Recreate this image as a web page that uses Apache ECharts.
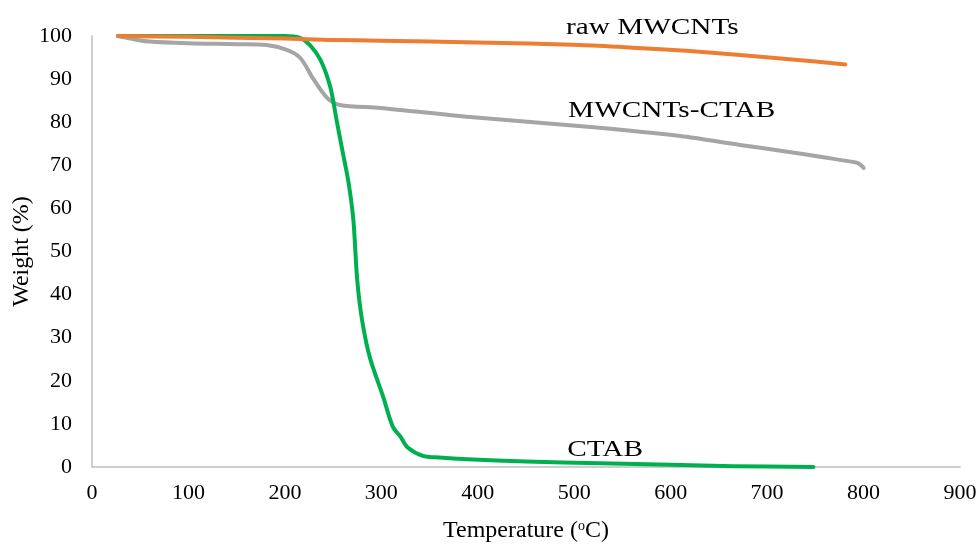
<!DOCTYPE html>
<html>
<head>
<meta charset="utf-8">
<title>TGA</title>
<script src="https://cdn.jsdelivr.net/npm/echarts@6/dist/echarts.min.js"></script>
<style>
  html, body { margin: 0; padding: 0; background: #fff; }
  #main { width: 977px; height: 547px; }
</style>
</head>
<body>
<div id="main"></div>
<script>
// temperature (°C), weight (%)
var rawMwcnts = [
  [27, 100], [100, 99.8], [200, 99.4], [247, 99.1], [300, 98.9], [400, 98.5],
  [506, 97.9], [560, 97.3], [620, 96.5], [672, 95.6], [714, 94.8], [750, 94.1], [781, 93.4]
];
var mwcntsCtab = [
  [27, 100], [40, 99.4], [60, 98.7], [100, 98.3], [150, 98.1], [181, 97.9],
  [202, 96.8], [216, 94.9], [229, 90.2], [244, 85.6], [257, 84.0], [299, 83.3],
  [392, 81.2], [517, 78.9], [610, 76.8], [672, 74.7], [714, 73.4], [760, 71.8],
  [793, 70.6], [797, 70.1], [800, 69.4]
];
var ctab = [
  [27, 100], [100, 100], [200, 100], [215, 99.6], [226, 97.9], [237, 94.4],
  [247, 88.2], [254, 80.0], [260, 73.0], [266, 66.0], [271, 57.3], [275, 43.4],
  [280, 34.1], [288, 25.5], [302, 16.2], [312, 9.3], [320, 7.0], [327, 4.6],
  [343, 2.6], [360, 2.2], [389, 1.8], [450, 1.3], [527, 0.85], [600, 0.5],
  [665, 0.2], [748, 0]
];
var seriesNames = ['raw MWCNTs', 'MWCNTs-CTAB', 'CTAB'];
// label centres in data coordinates
var labelAnchors = [[581, 101.9], [601, 82.6], [532, 3.9]];

var font = 'Liberation Serif, Times New Roman, serif';
var myChart = echarts.init(document.getElementById('main'));

function lineSeries(name, data, color) {
  return {
    name: name,
    type: 'line',
    data: data,
    showSymbol: false,
    smooth: 0.3,
    lineStyle: { color: color, width: 4, cap: 'round', join: 'round' },
    itemStyle: { color: color },
    silent: true,
    animation: false
  };
}

myChart.setOption({
  animation: false,
  grid: { left: 92, right: 17, top: 36, bottom: 80, outerBoundsMode: 'none', containLabel: false },
  xAxis: {
    type: 'value', min: 0, max: 900, interval: 100,
    name: 'Temperature ({sup|o}C)',
    nameLocation: 'middle', nameGap: 52, nameMoveOverlap: false,
    nameTextStyle: {
      fontFamily: font, fontSize: 24, color: '#000',
      rich: { sup: { fontFamily: font, fontSize: 14, color: '#000', padding: [0, 0, 10, 0] } }
    },
    axisLine: { lineStyle: { color: '#BFBFBF', width: 1.5 } },
    axisTick: { show: false },
    splitLine: { show: false },
    axisLabel: { fontFamily: font, fontSize: 22, color: '#000', margin: 15 }
  },
  yAxis: {
    type: 'value', min: 0, max: 100, interval: 10,
    name: 'Weight (%)',
    nameLocation: 'middle', nameGap: 58, nameMoveOverlap: false,
    nameTextStyle: { fontFamily: font, fontSize: 24, color: '#000' },
    axisLine: { show: true, lineStyle: { color: '#BFBFBF', width: 1.5 } },
    axisTick: { show: false },
    splitLine: { show: false },
    axisLabel: { fontFamily: font, fontSize: 22, color: '#000', margin: 20 }
  },
  series: [
    lineSeries(seriesNames[1], mwcntsCtab, '#A5A5A5'),
    lineSeries(seriesNames[2], ctab, '#00B050'),
    lineSeries(seriesNames[0], rawMwcnts, '#ED7D31')
  ]
});

// curve labels placed from data coordinates
var texts = seriesNames.map(function (name, i) {
  var p = myChart.convertToPixel({ gridIndex: 0 }, labelAnchors[i]);
  return {
    type: 'text',
    x: p[0], y: p[1],
    scaleX: 1.22,
    silent: true,
    style: {
      text: name, fontFamily: font, fontSize: 24, fill: '#000',
      align: 'center', verticalAlign: 'middle'
    }
  };
});
myChart.setOption({ graphic: texts });
</script>
</body>
</html>
